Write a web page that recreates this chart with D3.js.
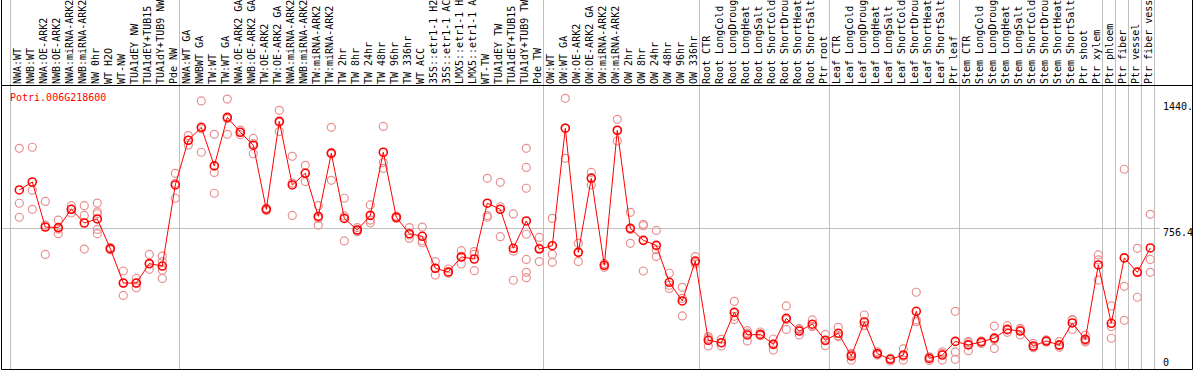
<!DOCTYPE html>
<html>
<head>
<meta charset="utf-8">
<script src="https://cdn.jsdelivr.net/npm/d3@7"></script>
<style>
  html, body { margin: 0; padding: 0; background: #fff; }
  text { font-family: "DejaVu Sans Mono", monospace; font-size: 10px; }
</style>
</head>
<body>
<div class="chart"></div>
<script>
const geneName = 'Potri.006G218600';

// sample names as shown in the header (long ones are cut to fit)
const categories = [
  'NWA:WT', 'NWB:WT', 'NWA:OE-ARK2', 'NWB:OE-ARK2', 'NWA:miRNA-ARK2', 'NWB:miRNA-ARK2',
  'NW 0hr', 'WT H2O', 'WT-NW', 'TUA1dEY NW', 'TUA1dEY+TUB15', 'TUA1dY+TUB9 NW', 'Pde NW',
  'NWA:WT GA', 'NWBWT GA', 'TW:WT', 'TW:WT GA', 'NWA:OE-ARK2 GA', 'NWB:OE-ARK2 GA',
  'TW:OE-ARK2', 'TW:OE-ARK2 GA', 'NWA:miRNA-ARK2', 'NWB:miRNA-ARK2', 'TW:miRNA-ARK2',
  'TW:miRNA-ARK2', 'TW 2hr', 'TW 8hr', 'TW 24hr', 'TW 48hr', 'TW 96hr', 'TW 336hr',
  'WT ACC', '35S::etr1-1 H2', '35S::etr1-1 AC', 'LMX5::etr1-1 H', 'LMX5::etr1-1 A',
  'WT-TW', 'TUA1dEY TW', 'TUA1dEY+TUB15', 'TUA1dY+TUB9 TW', 'Pde TW',
  'OW:WT', 'OW:WT GA', 'OW:OE-ARK2', 'OW:OE-ARK2 GA', 'OW:miRNA-ARK2', 'OW:miRNA-ARK2',
  'OW 2hr', 'OW 8hr', 'OW 24hr', 'OW 48hr', 'OW 96hr', 'OW 336hr',
  'Root CTR', 'Root LongCold', 'Root LongDroug', 'Root LongHeat', 'Root LongSalt',
  'Root ShortCold', 'Root ShortDrou', 'Root ShortHeat', 'Root ShortSalt', 'Ptr root',
  'Leaf CTR', 'Leaf LongCold', 'Leaf LongDroug', 'Leaf LongHeat', 'Leaf LongSalt',
  'Leaf ShortCold', 'Leaf ShortDrou', 'Leaf ShortHeat', 'Leaf ShortSalt', 'Ptr leaf',
  'Stem CTR', 'Stem LongCold', 'Stem LongDroug', 'Stem LongHeat', 'Stem LongSalt',
  'Stem ShortCold', 'Stem ShortDrou', 'Stem ShortHeat', 'Stem ShortSalt', 'Ptr shoot',
  'Ptr xylem', 'Ptr phloem', 'Ptr fiber', 'Ptr vessel', 'Ptr fiber vess'
];

// mean expression per sample
const means = [
  964, 1007, 763, 760, 859, 785, 807, 646, 460, 460, 565, 552, 991,
  1233, 1303, 1094, 1357, 1276, 1206, 859, 1335, 991, 1054, 821, 1162, 810, 747, 826,
  1168, 816, 727, 713, 540, 520, 601, 590, 892, 859, 648, 796, 644,
  662, 1298, 626, 1027, 556, 1287, 756, 691, 664, 464, 363, 579,
  150, 137, 301, 179, 182, 128, 269, 200, 237, 150,
  188, 65, 249, 78, 47, 70, 307, 52, 70, 144,
  125, 141, 162, 209, 200, 119, 146, 125, 244, 155, 558,
  242, 596, 518, 650
];

// replicate values per sample
const replicates = [
  [1189, 892, 816], [1195, 962, 859], [902, 774, 615], [801, 752, 727], [879, 859, 839],
  [879, 826, 644], [893, 845, 835, 750, 727], [652, 646, 640], [525, 460, 393], [485, 460, 435],
  [615, 565, 534], [606, 576, 529, 485], [1054, 1000, 919],
  [1258, 1233, 1207], [1446, 1295, 1168], [1265, 1059, 946], [1456, 1350, 1265], [1288, 1276, 1263],
  [1243, 1215, 1160], [865, 859, 852], [1395, 1330, 1280], [1146, 1001, 826], [1097, 1056, 1009],
  [879, 810, 774], [1303, 1167, 1016], [919, 823, 688], [760, 747, 738], [883, 801, 786],
  [1308, 1112, 1081], [822, 816, 810], [760, 720, 702], [763, 689, 678], [576, 540, 503],
  [536, 520, 513], [635, 605, 563], [630, 615, 527], [1027, 825, 816], [1005, 873, 711],
  [834, 633, 475], [1189, 1086, 973, 724, 588, 518, 489], [707, 649, 576],
  [810, 615, 572], [1460, 1299, 1135], [675, 627, 576], [1059, 1031, 991], [566, 556, 545],
  [1346, 1286, 1229], [843, 750, 675], [778, 770, 525], [745, 639, 603], [513, 448, 431],
  [437, 377, 282], [603, 571, 563],
  [170, 160, 119], [155, 137, 119], [361, 280, 262], [202, 189, 146], [195, 177, 175],
  [157, 130, 97], [336, 262, 209], [213, 208, 179], [260, 227, 224], [182, 147, 121],
  [220, 174, 170], [79, 74, 42], [287, 231, 229], [88, 76, 70], [52, 51, 38],
  [103, 64, 43], [410, 260, 251], [61, 54, 41], [88, 79, 43], [307, 87, 47],
  [143, 137, 94], [146, 144, 133], [227, 154, 106], [229, 206, 193], [215, 206, 179],
  [133, 115, 110], [152, 146, 141], [143, 121, 112], [262, 260, 209], [177, 148, 141],
  [612, 585, 476], [336, 224, 161], [1076, 442, 258], [648, 523, 383], [832, 588, 518]
];

// index of the last sample in each group
const groupEnds = [12, 40, 52, 62, 72, 83, 84, 85, 86, 87];
const yTicks = [1440, 756.4, 0];
const yTickLabels = ['1440.', '756.4', '0'];

let canvas = {
  svg: {},
  xScale: {},
  yScale: {},
  config: {
    svgW: 1194,
    svgH: 370,
    head: 85,
    bottom: 368,
    left: 11.3,
    step: 13
  },
  init: function () {
    this.svg = d3.select('.chart').append('svg')
      .attr('width', this.config.svgW)
      .attr('height', this.config.svgH)
      .style('display', 'block');
    this.bind();
    this.rendor();
  },
  bind: function () {
    let c = this.config;
    this.xScale = d3.scaleBand()
      .domain(d3.range(categories.length))
      .range([c.left, c.left + c.step * categories.length])
      .padding(0);
    this.yScale = d3.scaleLinear().domain([0, 1440]).range([c.bottom, 102]);
  },
  px: function (i) {
    return this.xScale(i) + 8; // point sits right of band centre
  },
  rendor: function () {
    let svg = this.svg;
    let y = this.yScale;

    // middle grid line
    svg.append('line')
      .attr('x1', 1).attr('x2', 1160)
      .attr('y1', Math.round(y(yTicks[1])) + 0.5).attr('y2', Math.round(y(yTicks[1])) + 0.5)
      .attr('stroke', '#c0c0c0');

    // group separators
    svg.append('line')
      .attr('x1', Math.round(this.xScale(0)) - 0.5).attr('x2', Math.round(this.xScale(0)) - 0.5)
      .attr('y1', 0).attr('y2', 369)
      .attr('stroke', '#c0c0c0');
    svg.selectAll('line.sep')
      .data(groupEnds)
      .enter().append('line')
      .attr('class', 'sep')
      .attr('x1', d => Math.round(this.xScale(d) + this.xScale.bandwidth()) - 0.5)
      .attr('x2', d => Math.round(this.xScale(d) + this.xScale.bandwidth()) - 0.5)
      .attr('y1', 0).attr('y2', 369)
      .attr('stroke', '#c0c0c0');

    // frame
    svg.append('path')
      .attr('d', 'M1.5,0V369.5H1192.5V0 M1.5,85.5H1192.5')
      .attr('fill', 'none')
      .attr('stroke', '#000');

    // sample labels
    svg.selectAll('text.lab')
      .data(categories)
      .enter().append('text')
      .attr('class', 'lab')
      .attr('transform', (d, i) => `translate(${this.px(i) + 1.8}, 84) rotate(-90)`)
      .attr('fill', '#000')
      .text(d => d);

    // right axis labels
    svg.selectAll('text.tick')
      .data(yTicks)
      .enter().append('text')
      .attr('class', 'tick')
      .attr('x', 1163)
      .attr('y', d => d === 0 ? 366 : y(d) + 8)
      .attr('fill', '#000')
      .text((d, i) => yTickLabels[i]);

    // gene name
    svg.append('text')
      .attr('x', 10).attr('y', 101)
      .attr('fill', '#ff0000')
      .text(geneName);

    // replicate circles
    let reps = [];
    replicates.forEach((arr, i) => arr.forEach(v => reps.push({ i: i, v: v })));
    svg.selectAll('circle.rep')
      .data(reps)
      .enter().append('circle')
      .attr('class', 'rep')
      .attr('cx', d => this.px(d.i))
      .attr('cy', d => y(d.v))
      .attr('r', 4)
      .attr('fill', 'none')
      .attr('stroke', '#e89090')
      .attr('stroke-width', 1.2);

    // mean line
    let line = d3.line()
      .x((d, i) => this.px(i))
      .y(d => y(d));
    svg.append('path')
      .attr('d', line(means))
      .attr('fill', 'none')
      .attr('stroke', '#ff0000')
      .attr('stroke-width', 1);

    svg.selectAll('circle.mean')
      .data(means)
      .enter().append('circle')
      .attr('class', 'mean')
      .attr('cx', (d, i) => this.px(i))
      .attr('cy', d => y(d))
      .attr('r', 4)
      .attr('fill', 'none')
      .attr('stroke', '#ff0000')
      .attr('stroke-width', 1.6);
  }
};

canvas.init();
</script>
</body>
</html>
